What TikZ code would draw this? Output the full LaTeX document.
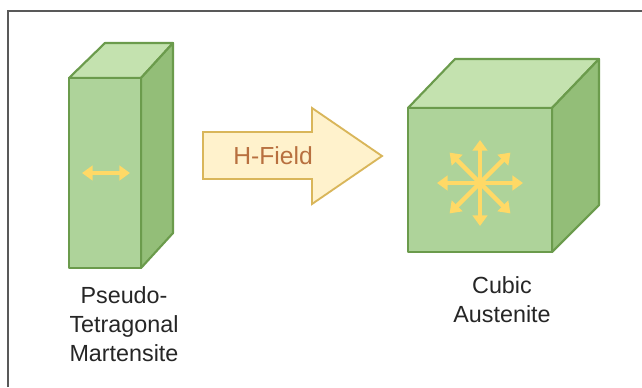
\documentclass[tikz,border=0pt]{standalone}
\usepackage{fontspec}
\setmainfont{Liberation Sans}
\usetikzlibrary{arrows.meta}
\definecolor{frontgreen}{HTML}{AED39A}
\definecolor{topgreen}{HTML}{C4E2AF}
\definecolor{sidegreen}{HTML}{93BE78}
\definecolor{edgegreen}{HTML}{6B9B4C}
\definecolor{fieldfill}{HTML}{FFF2CC}
\definecolor{fieldedge}{HTML}{D9B65A}
\definecolor{fieldtext}{HTML}{B8703F}
\definecolor{spin}{HTML}{FFD966}
\definecolor{labeltext}{HTML}{262626}
\tikzset{
  face/.style={draw=edgegreen, line width=1.6pt, line join=round},
  spinhead/.tip={Triangle[width=11pt,length=8pt]},
  spinarrow/.style={draw=spin, line width=3.2pt, -spinhead},
  caption/.style={text=labeltext, font=\fontsize{17.5}{21.75}\selectfont, align=center, inner sep=0pt},
}
\begin{document}
\begin{tikzpicture}[x=0.75pt, y=-0.75pt]
  \useasboundingbox (0,0) rectangle (642,387);
  \fill[white] (0,0) rectangle (642,387);
  % frame
  \draw[gray!70!black, line width=1pt] (8,387) -- (8,11) -- (642,11);

  % tall prism (pseudo-tetragonal)
  \draw[face, fill=topgreen] (69,78) -- (105,43) -- (173,43) -- (141,78) -- cycle;
  \draw[face, fill=sidegreen] (141,78) -- (173,43) -- (173,233) -- (141,268) -- cycle;
  \draw[face, fill=frontgreen] (69,78) rectangle (141,268);
  \coordinate (dl) at (82,173);
  \coordinate (dr) at (130,173);
  \draw[draw=spin, line width=3.2pt, spinhead-spinhead] (dl) -- (dr);

  % field arrow
  \draw[draw=fieldedge, fill=fieldfill, line width=1.4pt, line join=miter]
    (203,132) -- (312,132) -- (312,108) -- (382,156) -- (312,204) -- (312,179) -- (203,179) -- cycle;
  \node[text=fieldtext, font=\fontsize{18.5}{22}\selectfont, inner sep=0pt] (field) at (273,156) {H-Field};

  % cube (austenite)
  \draw[face, fill=topgreen] (408,108) -- (455,59) -- (599,59) -- (552,108) -- cycle;
  \draw[face, fill=sidegreen] (552,108) -- (599,59) -- (599,205) -- (552,252) -- cycle;
  \draw[face, fill=frontgreen] (408,108) rectangle (552,252);
  \coordinate (c) at (480,183);
  \foreach \a in {0,45,...,315}
    \draw[spinarrow] (c) -- ++(\a:43);
  \fill[spin] (c) circle (5);

  % captions
  \node[caption] (mart) at (124,324) {Pseudo-\\Tetragonal\\Martensite};
  \node[caption] (aust) at (502,300) {Cubic\\Austenite};
\end{tikzpicture}
\end{document}
